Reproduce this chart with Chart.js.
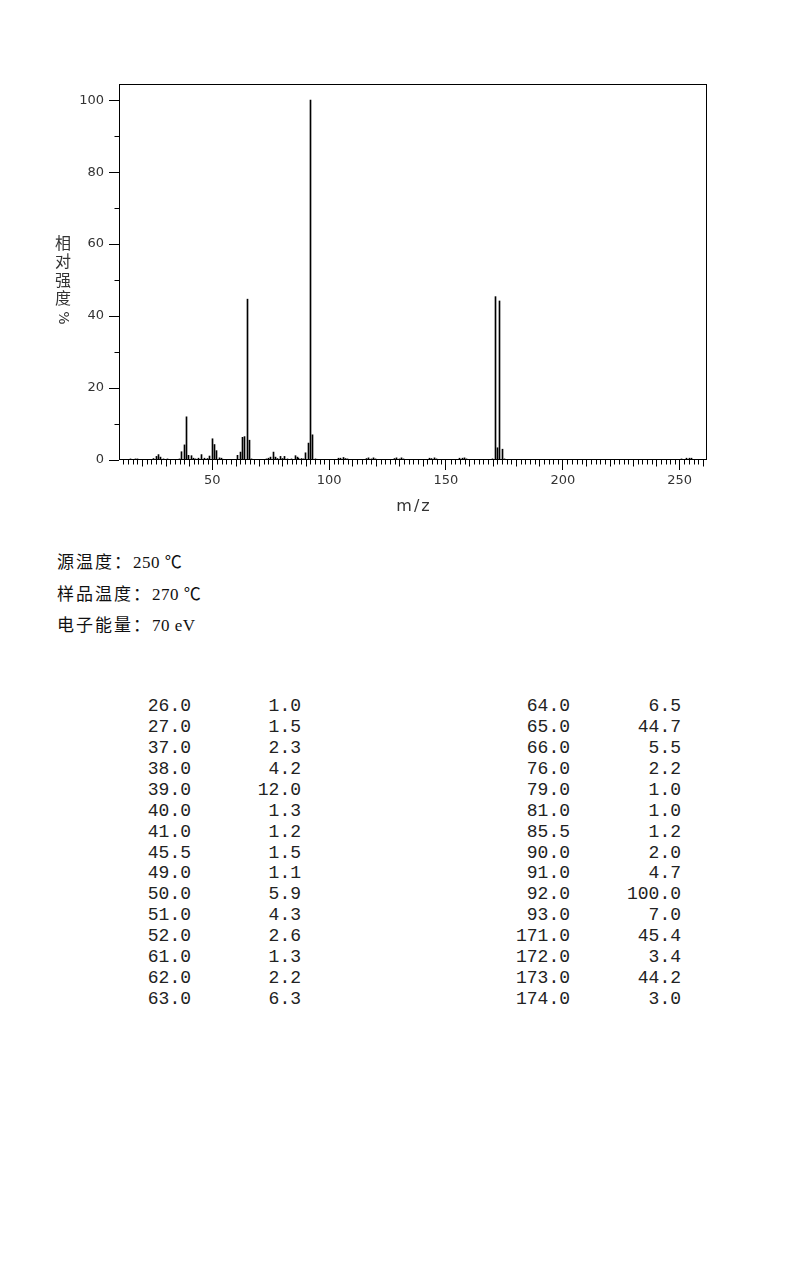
<!DOCTYPE html>
<html><head><meta charset="utf-8">
<script src="https://cdn.jsdelivr.net/npm/chart.js@4.4.1/dist/chart.umd.min.js"></script>
<style>
html,body{margin:0;padding:0;background:#fff;}
body{width:794px;height:1276px;position:relative;overflow:hidden;}
#wrap{position:absolute;left:0;top:0;width:794px;height:530px;}
.info{position:absolute;left:57px;height:24px;line-height:24px;font-family:"Liberation Serif","Noto Sans CJK SC",serif;font-size:17px;color:#111;white-space:pre;letter-spacing:0.5px;}
.info .cjk{font-family:"Noto Sans CJK SC";letter-spacing:2px;}
.cell{position:absolute;height:20px;line-height:20px;font-family:"Liberation Mono",monospace;font-size:18px;color:#222;text-align:right;white-space:pre;}
</style></head>
<body>
<div id="wrap"><canvas id="c" width="794" height="530"></canvas></div>
<div id="info"></div>
<div id="table"></div>
<script>
// ---- data ----
const tableMz = [26.0,27.0,37.0,38.0,39.0,40.0,41.0,45.5,49.0,50.0,51.0,52.0,61.0,62.0,63.0,
                 64.0,65.0,66.0,76.0,79.0,81.0,85.5,90.0,91.0,92.0,93.0,171.0,172.0,173.0,174.0];
const tableInt = [1.0,1.5,2.3,4.2,12.0,1.3,1.2,1.5,1.1,5.9,4.3,2.6,1.3,2.2,6.3,
                  6.5,44.7,5.5,2.2,1.0,1.0,1.2,2.0,4.7,100.0,7.0,45.4,3.4,44.2,3.0];
// small peaks (<1%)
const minorMz = [15,17,18,25,28,29,31,36,42,43,44,46.5,48,53,54,55,67,73,74,75,77,78,80,82,84,86.5,87,88,89,94,95,
                 104,105,106,107,108,116,117,118,119,120,128,129,130,131,132,143,144,145,146,156,157,158,159,170,175,251,253,254,255];
const minorInt = [0.3,0.3,0.3,0.4,0.8,0.3,0.3,0.3,0.5,0.3,0.5,0.5,0.4,0.6,0.5,0.2,0.3,0.3,0.5,0.8,0.8,0.4,0.4,0.3,0.3,0.8,0.5,0.4,0.3,0.3,0.2,
                  0.5,0.5,0.7,0.4,0.3,0.4,0.6,0.3,0.6,0.3,0.4,0.6,0.3,0.6,0.3,0.5,0.4,0.6,0.3,0.5,0.5,0.6,0.3,0.3,0.3,0.3,0.5,0.5,0.5];
const xMajorTicks = [50,100,150,200,250];
const yMajorTicks = [0,20,40,60,80,100];
const yTitleChars = ['相','对','强','度'];
const yTitleUnit = '%';
const xTitle = 'm/z';
const infoLines = [['源温度：','250 ℃'],['样品温度：','270 ℃'],['电子能量：','70 eV']];

// ---- chart ----
const points = tableMz.map((m,i)=>({x:m,y:tableInt[i]})).concat(minorMz.map((m,i)=>({x:m,y:minorInt[i]})));

const framePlugin = {
  id:'frame',
  beforeDatasetsDraw(chart){
    const meta = chart.getDatasetMeta(0);
    meta.data.forEach(el=>{ el.x = Math.floor(el.x)+0.5; });
  },
  afterDraw(chart){
    const ctx = chart.ctx, a = chart.chartArea;
    const xs = chart.scales.x, ys = chart.scales.y;
    ctx.save();
    ctx.strokeStyle='#000'; ctx.lineWidth=1;
    ctx.strokeRect(Math.round(a.left)+0.5, Math.round(a.top)+0.5, Math.round(a.right-a.left)-1, Math.round(a.bottom-a.top)-1);
    const by = Math.round(a.bottom)-0.5;
    ctx.beginPath();
    for(let v=12; v<=260; v+=2){
      if(v%50===0) continue;
      const px = Math.round(xs.getPixelForValue(v))+0.5;
      const len = (v%10===0)?7:5;
      ctx.moveTo(px,by); ctx.lineTo(px,by+len);
    }
    for(let v=10; v<=100; v+=20){
      const py = Math.round(ys.getPixelForValue(v))+0.5;
      ctx.moveTo(Math.round(a.left)+0.5,py); ctx.lineTo(Math.round(a.left)+0.5-5,py);
    }
    ctx.stroke();
    // axis titles
    ctx.fillStyle='#333';
    ctx.font='16px "Noto Sans CJK SC"';
    ctx.textAlign='center'; ctx.textBaseline='middle';
    const ty=[243,261,280,298];
    yTitleChars.forEach((ch,i)=>ctx.fillText(ch,63,ty[i]));
    ctx.save(); ctx.translate(63,318); ctx.rotate(Math.PI/2);
    ctx.font='14px "DejaVu Sans"'; ctx.fillText(yTitleUnit,0,0); ctx.restore();
    ctx.font='16px "DejaVu Sans"';
    ctx.letterSpacing='2px';
    ctx.fillText(xTitle, (a.left+a.right)/2+1, 507);
    ctx.restore();
  }
};

new Chart(document.getElementById('c'),{
  type:'bar',
  data:{datasets:[{data:points, backgroundColor:'#000', borderWidth:0, barThickness:1, grouped:false}]},
  options:{
    responsive:false, animation:false, devicePixelRatio:1,
    layout:{padding:{top:84,right:87,left:0,bottom:0}},
    plugins:{legend:{display:false},tooltip:{enabled:false}},
    scales:{
      x:{type:'linear', min:10.1, max:261.7, offset:false,
         afterBuildTicks:s=>{s.ticks = xMajorTicks.map(v=>({value:v}));},
         afterFit:s=>{s.height=70;},
         grid:{offset:false, drawOnChartArea:false, drawTicks:true, tickLength:10, tickColor:'#000', tickWidth:1},
         border:{display:false},
         ticks:{autoSkip:false, maxRotation:0, padding:3, color:'#333', font:{family:'DejaVu Sans', size:13}}
      },
      y:{min:0, max:104.5,
         afterBuildTicks:s=>{s.ticks = yMajorTicks.map(v=>({value:v}));},
         afterFit:s=>{s.width=119;},
         grid:{drawOnChartArea:false, drawTicks:true, tickLength:10, tickColor:'#000', tickWidth:1},
         border:{display:false},
         ticks:{padding:5, color:'#333', font:{family:'DejaVu Sans', size:13}}
      }
    }
  },
  plugins:[framePlugin]
});

// ---- info text ----
const infoTops=[561,593,624];
const info=document.getElementById('info');
infoLines.forEach((l,i)=>{
  const d=document.createElement('div'); d.className='info'; d.style.top=(infoTops[i]-12)+'px';
  d.innerHTML='<span class="cjk">'+l[0]+'</span>'+l[1];
  info.appendChild(d);
});

// ---- table ----
const tbl=document.getElementById('table');
const half = 15;
const colRights=[191,301,570,681];
for(let i=0;i<half;i++){
  const cy = 706 + i*20.93;
  const vals=[tableMz[i].toFixed(1), tableInt[i].toFixed(1), tableMz[i+half].toFixed(1), tableInt[i+half].toFixed(1)];
  vals.forEach((v,j)=>{
    const d=document.createElement('div'); d.className='cell';
    d.style.right=(794-colRights[j])+'px'; d.style.top=(cy-10)+'px';
    d.textContent=v; tbl.appendChild(d);
  });
}
</script>
</body></html>
